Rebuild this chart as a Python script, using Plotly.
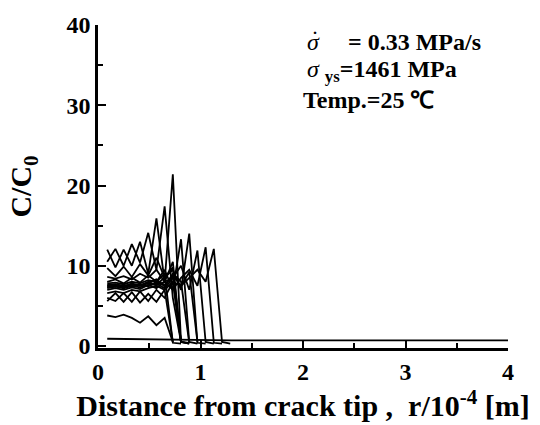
import plotly.graph_objects as go

# x grid (r / 1e-4 m)
x_grid = [0.09, 0.17, 0.25, 0.33, 0.41, 0.49, 0.57, 0.65, 0.73, 0.81, 0.89, 0.97, 1.05, 1.13, 1.21, 1.29]

# C/C0 profiles (each ends where it drops)
c01 = [10.5, 12.1, 10.0, 12.7, 10.4, 14.1, 9.5, 17.4, 6.0, 0.5, 0.3]
c02 = [12.0, 9.8, 12.0, 10.0, 13.0, 9.0, 15.9, 8.0, 21.4, 0.5, 0.4]
c03 = [8.0, 8.3, 7.8, 8.5, 7.9, 8.8, 8.0, 9.5, 7.0, 13.3, 0.5, 0.3]
c04 = [7.5, 7.6, 7.4, 7.8, 7.5, 8.0, 7.6, 8.5, 9.5, 7.0, 14.0, 0.4, 0.3]
c05 = [7.2, 7.4, 7.2, 7.5, 7.3, 7.6, 7.8, 7.2, 8.5, 10.0, 7.0, 11.9, 0.5, 0.3]
c06 = [7.0, 7.2, 7.0, 7.3, 7.1, 7.6, 7.2, 8.0, 7.0, 8.5, 9.5, 7.5, 12.3, 0.4, 0.3]
c07 = [6.6, 6.8, 6.6, 7.0, 6.8, 7.2, 7.5, 7.0, 8.0, 7.5, 8.5, 9.5, 8.0, 12.1, 0.5, 0.3]
c08 = [7.8, 7.9, 7.7, 8.0, 7.8, 8.2, 8.0, 9.0, 0.4, 0.3]
c09 = [7.4, 7.5, 7.3, 7.6, 7.5, 7.8, 7.6, 8.0, 8.5, 0.5, 0.3]
c10 = [8.6, 8.4, 8.7, 8.3, 9.0, 8.5, 9.5, 8.0, 10.5, 0.4]
c11 = [6.0, 5.6, 6.6, 5.5, 6.8, 5.6, 7.0, 6.0, 8.0, 0.5]
c12 = [5.6, 6.6, 5.5, 6.7, 5.4, 6.5, 5.5, 7.0, 0.5]
c13 = [3.8, 3.6, 3.9, 3.5, 2.9, 3.7, 2.6, 3.5, 0.5]
c14 = [7.6, 7.7, 7.5, 7.7, 7.6, 7.9, 8.3, 7.4, 9.0, 8.0, 0.4]
c15 = [9.7, 8.7, 9.9, 8.6, 10.2, 8.8, 11.0, 8.5, 9.8, 0.4]
c16 = [7.3, 7.4, 7.6, 7.3, 7.7, 7.4, 8.0, 7.6, 8.8, 7.5, 9.2, 0.5]
profiles = [c01, c02, c03, c04, c05, c06, c07, c08, c09, c10, c11, c12, c13, c14, c15, c16]

# long baseline profile
base_x = [0.09, 0.7, 1.3, 4.0]
base_y = [0.9, 0.8, 0.7, 0.7]

x_ticks = [0, 1, 2, 3, 4]
y_ticks = [0, 10, 20, 30, 40]
x_minor = [0.5, 1.5, 2.5, 3.5]
y_minor = [5, 15, 25, 35]
x_range = [0, 4]
y_range = [-0.25, 40]

fig = go.Figure()
for prof in profiles:
    fig.add_trace(go.Scatter(x=x_grid[:len(prof)], y=prof, mode="lines",
                             line=dict(color="black", width=1.8), showlegend=False))
fig.add_trace(go.Scatter(x=base_x, y=base_y, mode="lines",
                         line=dict(color="black", width=1.8), showlegend=False))
# carrier for the minor-tick axes
fig.add_trace(go.Scatter(x=[None], y=[None], xaxis="x2", yaxis="y2", mode="lines",
                         showlegend=False, hoverinfo="skip"))

font_fam = "Liberation Serif"
tick_font = dict(family=font_fam, size=24, color="black")
fig.update_layout(
    width=540, height=425,
    margin=dict(l=98, r=32, t=19, b=77),
    paper_bgcolor="white", plot_bgcolor="white",
    font=dict(family=font_fam, color="black", size=24),
    xaxis=dict(range=x_range, tickmode="array", tickvals=x_ticks,
               ticktext=[f"<b>{v}</b>" for v in x_ticks],
               showgrid=False, zeroline=False,
               showline=True, linecolor="black", linewidth=2.5,
               ticks="inside", ticklen=8, tickwidth=2, tickcolor="black",
               tickfont=tick_font,
               title=dict(text="<b>Distance from crack tip ,  r/10<sup>-4</sup> [m]</b>",
                          font=dict(family=font_fam, size=30, color="black"),
                          standoff=4)),
    yaxis=dict(range=y_range, tickmode="array", tickvals=y_ticks,
               ticktext=[f"<b>{v}</b>" for v in y_ticks],
               showgrid=False, zeroline=False,
               showline=True, linecolor="black", linewidth=2.5,
               ticks="inside", ticklen=8, tickwidth=2, tickcolor="black",
               tickfont=tick_font,
               title=dict(text="<b>C/C<sub>0</sub></b>",
                          font=dict(family=font_fam, size=30, color="black"),
                          standoff=26)),
    xaxis2=dict(overlaying="x", anchor="y", side="bottom", range=x_range,
                tickmode="array", tickvals=x_minor, showticklabels=False,
                ticks="inside", ticklen=5, tickwidth=2, tickcolor="black",
                showgrid=False, zeroline=False, showline=False),
    yaxis2=dict(overlaying="y", anchor="x", side="left", range=y_range,
                tickmode="array", tickvals=y_minor, showticklabels=False,
                ticks="inside", ticklen=5, tickwidth=2, tickcolor="black",
                showgrid=False, zeroline=False, showline=False),
)

ann_font = dict(family=font_fam, size=24, color="black")
fig.add_annotation(x=2.02, y=37.9, xref="x", yref="y", xanchor="left", yanchor="middle",
                   text="<i>σ</i>", showarrow=False, font=ann_font)
fig.add_annotation(x=2.06, y=38.3, xref="x", yref="y", xanchor="left", yanchor="middle",
                   text="˙", showarrow=False, font=ann_font)
fig.add_annotation(x=2.42, y=37.9, xref="x", yref="y", xanchor="left", yanchor="middle",
                   text="<b>= 0.33 MPa/s</b>", showarrow=False, font=ann_font)
fig.add_annotation(x=2.02, y=34.3, xref="x", yref="y", xanchor="left", yanchor="middle",
                   text="<i>σ</i> <b><sub>ys</sub>=1461 MPa</b>", showarrow=False, font=ann_font)
fig.add_annotation(x=1.98, y=30.7, xref="x", yref="y", xanchor="left", yanchor="middle",
                   text="<b>Temp.=25 ℃</b>", showarrow=False, font=ann_font)

fig.write_html("out.html")
